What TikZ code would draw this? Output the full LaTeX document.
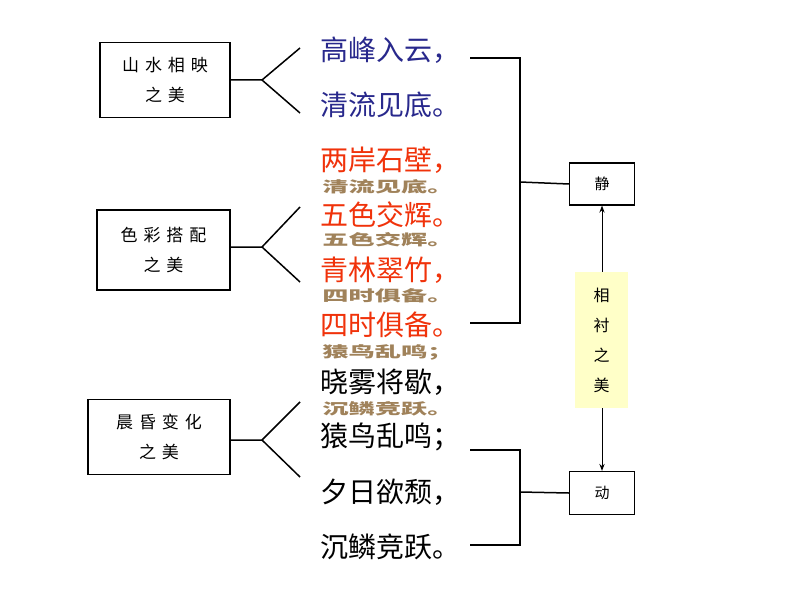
\documentclass[tikz,border=0pt]{standalone}
\usepackage{fontspec}
\newfontfamily\cjk{Noto Sans CJK SC}
\newfontfamily\cjkls[LetterSpace=35]{Noto Sans CJK SC}
\usetikzlibrary{arrows.meta}
\definecolor{tblue}{RGB}{40,40,140}
\definecolor{tred}{RGB}{240,50,10}
\definecolor{ttan}{RGB}{160,130,90}
\definecolor{tyel}{RGB}{255,255,200}
\begin{document}
\begin{tikzpicture}[x=1pt,y=-1pt,
  lbox/.style={draw,line width=1.5pt,fill=white,align=center,font=\cjkls\fontsize{17}{30}\selectfont,inner sep=0pt},
  big/.style={anchor=west,font=\cjk\fontsize{28}{28}\selectfont,inner sep=0pt},
  small/.style={anchor=west,font=\cjk\bfseries\fontsize{15}{15}\selectfont,text=ttan,inner sep=0pt,xscale=1.75},
  ln/.style={line width=1.5pt}]
\useasboundingbox (0,0) rectangle (794,596);
\node[lbox,minimum width=130,minimum height=75] (b1) at (165,80) {山水相映\\之美};
\node[lbox,minimum width=133,minimum height=80] (b2) at (163.5,250) {色彩搭配\\之美};
\node[lbox,minimum width=142,minimum height=75] (b3) at (159,437) {晨昏变化\\之美};
\coordinate (f1) at (262,80); \coordinate (f2) at (262,247); \coordinate (f3) at (262,440);
\draw[ln] (b1.east)--(f1) (f1)--(300,48) (f1)--(300,113);
\draw[ln] (b2.east|-f2)--(f2) (f2)--(300,207) (f2)--(300,282);
\draw[ln] (b3.east|-f3)--(f3) (f3)--(300,402) (f3)--(300,477);
% tan small texts
\foreach \t/\y in {清流见底。/187,五色交辉。/240,四时俱备。/296,猿鸟乱鸣；/352,沉鳞竞跃。/409}
  \node[small] at (322,\y) {\t};
\node[big,text=tblue] (t1) at (320,50) {高峰入云，};
\node[big,text=tblue] (t2) at (320,105) {清流见底。};
\node[big,text=tred] (t3) at (320,160) {两岸石壁，};
\node[big,text=tred] (t4) at (320,215) {五色交辉。};
\node[big,text=tred] (t5) at (320,270) {青林翠竹，};
\node[big,text=tred] (t6) at (320,325) {四时俱备。};
\node[big] (t7) at (320,382) {晓雾将歇，};
\node[big] (t8) at (320,437) {猿鸟乱鸣；};
\node[big] (t9) at (320,492) {夕日欲颓，};
\node[big] (t10) at (320,547) {沉鳞竞跃。};
\node[lbox,line width=1.2pt,minimum width=65,minimum height=42,font=\cjk\fontsize{15}{15}\selectfont] (jing) at (602,184) {静};
\node[lbox,line width=1.2pt,minimum width=65,minimum height=43,font=\cjk\fontsize{15}{15}\selectfont] (dong) at (602,493) {动};
\draw[ln] (470,58)--(520,58)--(520,323)--(470,323);
\draw[ln] (520,182)--(jing.west);
\draw[ln] (470,450)--(520,450)--(520,545)--(470,545);
\draw[ln] (520,492)--(dong.west);
\draw[line width=1pt,{Stealth[length=7pt]}-{Stealth[length=7pt]}] (jing.south)--(dong.north);
\node[fill=tyel,minimum width=53,minimum height=136,align=center,font=\cjk\fontsize{16}{30}\selectfont,inner sep=0pt] (xc) at (601.5,340) {相\\衬\\之\\美};
\end{tikzpicture}
\end{document}
